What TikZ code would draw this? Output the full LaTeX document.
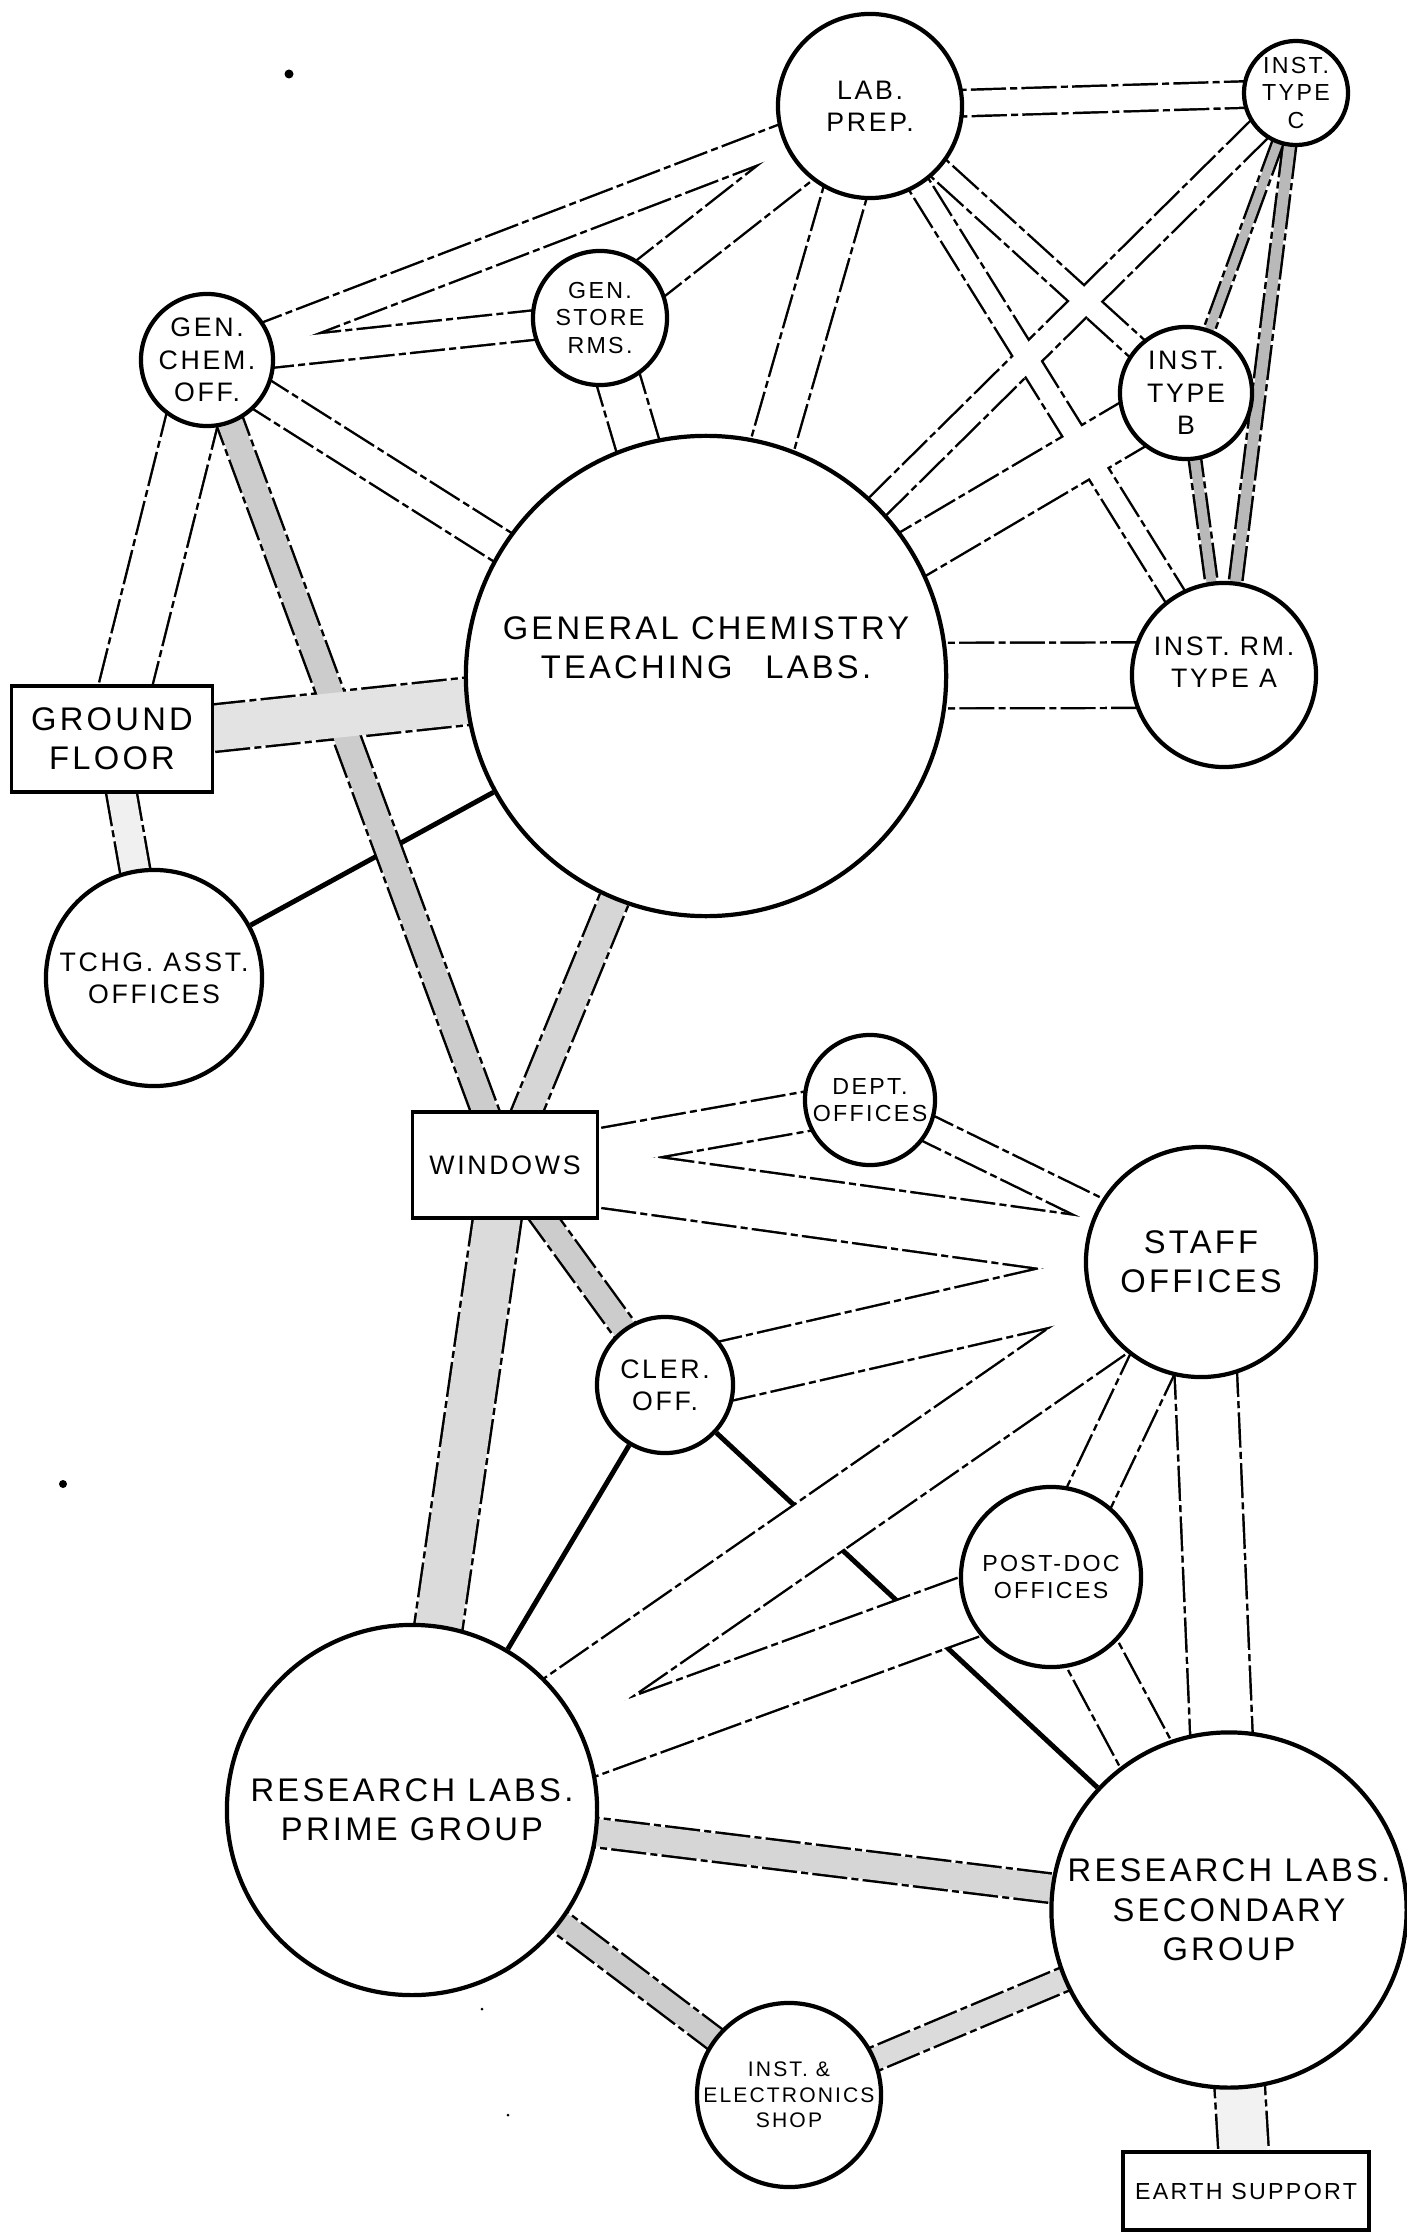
\documentclass[tikz,border=0pt]{standalone}
\usepackage{fontspec}
\newfontfamily\handfont[LetterSpace=10]{Liberation Sans}
\newcommand\bigtxt{\handfont\fontsize{9.3}{11.2}\selectfont}
\newcommand\medtxt{\handfont\fontsize{7.6}{9.2}\selectfont}
\newcommand\smalltxt{\handfont\fontsize{6.6}{7.8}\selectfont}
\pgfdeclarelayer{paper}
\pgfdeclarelayer{edges}
\pgfdeclarelayer{cores}
\pgfsetlayers{paper,edges,cores,main}

\begin{document}
\begin{tikzpicture}[x=0.01cm,y=-0.01cm,
    room/.style={circle,draw,line width=1.2pt,fill=white,align=center,inner sep=0pt},
    area/.style={rectangle,draw,line width=1pt,fill=white,align=center,inner sep=0pt},
    link/.style={line width=1.4pt},
    bandedge/.style={draw=black,dash pattern=on 10pt off 1.2pt on 2pt off 1.2pt}]

  \useasboundingbox (0,0) rectangle (1406,2234);

  % rooms, upper group
  \node[room, minimum size=1.84cm, font=\medtxt] (prep) at (870,106) {LAB.\\PREP.};
  \node[room, minimum size=1.04cm, font=\smalltxt] (instc) at (1296,93) {INST.\\TYPE\\C};
  \node[room, minimum size=1.34cm, font=\smalltxt] (store) at (600,318) {GEN.\\STORE\\RMS.};
  \node[room, minimum size=1.32cm, font=\medtxt] (gchem) at (207,360) {GEN.\\CHEM.\\OFF.};
  \node[room, minimum size=1.32cm, font=\medtxt] (instb) at (1186,393) {INST.\\TYPE\\B};
  \node[room, minimum size=4.8cm,
        label={[font=\bigtxt, align=center, yshift=0.28cm]center:GENERAL CHEMISTRY\\TEACHING\quad LABS.}] (gctl) at (706,676) {};
  \node[room, minimum size=1.84cm,
        label={[font=\medtxt, align=center, yshift=0.13cm]center:INST. RM.\\TYPE A}] (insta) at (1224,675) {};
  \node[area, minimum width=2.01cm, minimum height=1.06cm, font=\bigtxt] (ground) at (112,739) {GROUND\\FLOOR};
  \node[room, minimum size=2.16cm, font=\medtxt] (tchg) at (154,978) {TCHG. ASST.\\OFFICES};

  % rooms, lower group
  \node[area, minimum width=1.85cm, minimum height=1.06cm, font=\medtxt] (windows) at (505,1165) {WINDOWS};
  \node[room, minimum size=1.3cm, font=\smalltxt] (dept) at (870,1100) {DEPT.\\OFFICES};
  \node[room, minimum size=2.3cm, font=\bigtxt] (staff) at (1201,1262) {STAFF\\OFFICES};
  \node[room, minimum size=1.36cm, font=\medtxt] (cler) at (665,1385) {CLER.\\OFF.};
  \node[room, minimum size=1.8cm, font=\smalltxt] (postdoc) at (1051,1577) {POST-DOC\\OFFICES};
  \node[room, minimum size=3.7cm, font=\bigtxt] (prime) at (412,1810) {RESEARCH LABS.\\PRIME GROUP};
  \node[room, minimum size=3.55cm, font=\bigtxt] (second) at (1229,1910) {RESEARCH LABS.\\SECONDARY\\GROUP};
  \node[room, minimum size=1.84cm, font=\handfont\fontsize{6}{7.3}\selectfont] (shop) at (789,2095) {INST. \&\\ELECTRONICS\\SHOP};
  \node[area, minimum width=2.46cm, minimum height=0.78cm, font=\smalltxt] (earth) at (1246,2191) {EARTH SUPPORT};

  % bands: from/to/width/shade
  \def\bandlist{gchem/prep/2.8mm/white, gchem/store/2.7mm/white,
    store/prep/4.3mm/white, prep/gctl/4.2mm/white, store/gctl/4.2mm/white,
    gchem/gctl/3.1mm/white, gchem/windows/2.5mm/gray!40,
    gchem/ground/5mm/white, ground/tchg/2.8mm/gray!12,
    ground/gctl/4.5mm/gray!22, gctl/windows/2.8mm/gray!32,
    gctl/insta/6.3mm/white, prep/instc/2.4mm/white,
    prep/instb/2mm/white, prep/insta/2mm/white,
    instc/gctl/2.2mm/white, instb/gctl/4.8mm/white,
    instc/instb/0.9mm/gray!55, instc/insta/1.1mm/gray!55, instb/insta/1mm/gray!55,
    windows/dept/3.7mm/white, windows/staff/5.6mm/white, dept/staff/2.5mm/white,
    cler/staff/5.8mm/white, prime/staff/6.3mm/white, prime/postdoc/6mm/white,
    windows/cler/2.3mm/gray!40, windows/prime/4.6mm/gray!28,
    staff/postdoc/4.6mm/white, staff/second/6mm/white, postdoc/second/5.5mm/white,
    prime/second/2.7mm/gray!32, prime/shop/2.2mm/gray!40,
    shop/second/2.2mm/gray!28, second/earth/4.8mm/gray!10}
  \begin{pgfonlayer}{edges}
    \foreach \a/\b/\w/\c in \bandlist
      \draw[bandedge, line width=\w+1.4pt] (\a.center) -- (\b.center);
  \end{pgfonlayer}
  \begin{pgfonlayer}{cores}
    \foreach \a/\b/\w/\c in \bandlist
      \draw[draw=\c, line width=\w] (\a.center) -- (\b.center);
  \end{pgfonlayer}

  % single links, under the bands
  \begin{pgfonlayer}{paper}
    \fill[white] (0,0) rectangle (1406,2234);
    \draw[link] (tchg) -- (gctl);
    \draw[link] (cler) -- (prime);
    \draw[link] (cler) -- (second);
  \end{pgfonlayer}

  % specks on the sheet
  \fill (289,74) circle (0.45mm);
  \fill (63,1484) circle (0.4mm);
  \fill (482,2009) circle (0.15mm);
  \fill (508,2115) circle (0.15mm);
\end{tikzpicture}
\end{document}
